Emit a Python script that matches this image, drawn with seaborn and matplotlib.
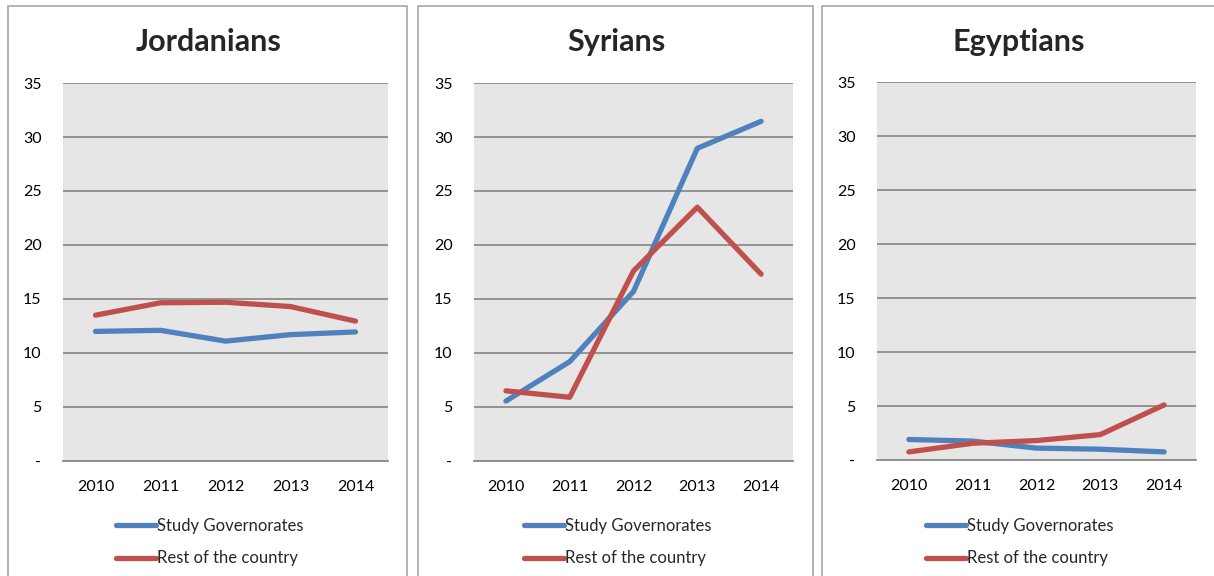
import matplotlib
matplotlib.use("Agg")
import matplotlib.pyplot as plt
from matplotlib.patches import Rectangle
import pandas as pd
import seaborn as sns

# Daten
years = ["2010", "2011", "2012", "2013", "2014"]
series_names = ["Study Governorates", "Rest of the country"]
titles = ["Jordanians", "Syrians", "Egyptians"]

jordan_study = [12.0, 12.1, 11.1, 11.7, 11.95]
jordan_rest = [13.5, 14.65, 14.7, 14.3, 12.95]
syria_study = [5.55, 9.2, 15.7, 28.95, 31.45]
syria_rest = [6.5, 5.9, 17.6, 23.5, 17.3]
egypt_study = [1.9, 1.75, 1.1, 1.0, 0.75]
egypt_rest = [0.75, 1.55, 1.8, 2.35, 5.1]

y_ticks = [0, 5, 10, 15, 20, 25, 30, 35]
y_ticklabels = ["-", "5", "10", "15", "20", "25", "30", "35"]

colors = ["#4F81BD", "#C0504D"]

sns.set_theme(style="white")
plt.rcParams["font.family"] = ["Lato", "DejaVu Sans"]

W, H = 1214, 576
fig = plt.figure(figsize=(W / 100, H / 100), dpi=100)

# Positionen in Pixel: Plotbereich (links, rechts, oben, unten), Rahmen links/rechts
panels = [
    dict(plot=(63, 388, 83, 461), box=(8, 407)),
    dict(plot=(474, 793, 83, 461), box=(418, 813)),
    dict(plot=(877, 1196, 82, 460), box=(822, 1222)),
]
data_sets = [
    (jordan_study, jordan_rest),
    (syria_study, syria_rest),
    (egypt_study, egypt_rest),
]

for title, panel, (study, rest) in zip(titles, panels, data_sets):
    bx0, bx1 = panel["box"]
    fig.patches.append(Rectangle((bx0 / W, -0.05), (bx1 - bx0) / W, 1.05 - 6 / H,
                                 transform=fig.transFigure, fill=False,
                                 edgecolor="#A6A6A6", linewidth=1.2))
    center_x = (bx0 + min(bx1, W)) / 2

    x0, x1, y0, y1 = panel["plot"]
    ax = fig.add_axes([x0 / W, (H - y1) / H, (x1 - x0) / W, (y1 - y0) / H])
    ax.set_facecolor("#E6E6E6")

    df = pd.DataFrame({
        "Year": years * 2,
        "Value": study + rest,
        "Series": [series_names[0]] * 5 + [series_names[1]] * 5,
    })
    sns.lineplot(data=df, x="Year", y="Value", hue="Series", palette=colors,
                 linewidth=3.8, ax=ax, legend=True, sort=False)
    for line in ax.lines:
        line.set_solid_capstyle("round")
        line.set_solid_joinstyle("round")

    ax.set_xlim(-0.5, 4.5)
    ax.set_ylim(0, 35)
    ax.set_yticks(y_ticks)
    ax.set_yticklabels(y_ticklabels)
    ax.yaxis.grid(True, color="#8C8C8C", linewidth=1.3)
    ax.set_axisbelow(True)
    for side in ["left", "right", "top"]:
        ax.spines[side].set_visible(False)
    ax.spines["bottom"].set_color("#8C8C8C")
    ax.spines["bottom"].set_linewidth(1.3)
    ax.tick_params(axis="both", length=0, labelsize=11.5, colors="black")
    ax.tick_params(axis="y", pad=15.5)
    ax.tick_params(axis="x", pad=13.5)
    ax.set_xlabel("")
    ax.set_ylabel("")

    # Titel über dem Plot, mittig im Rahmen
    fig.text((center_x + 1) / W, (H - 42) / H, title,
             ha="center", va="center", fontsize=22, fontweight="bold")

    handles, labels = ax.get_legend_handles_labels()
    for h in handles:
        h.set_solid_capstyle("round")
    ax.legend(handles, labels, loc="upper center", frameon=False,
              bbox_to_anchor=((center_x + 2) / W, (H - 511) / H),
              bbox_transform=fig.transFigure, fontsize=12,
              handlelength=2.4, handletextpad=0.05, labelspacing=1.0,
              borderaxespad=0)

fig.savefig("out.png", dpi=100, facecolor="white")
